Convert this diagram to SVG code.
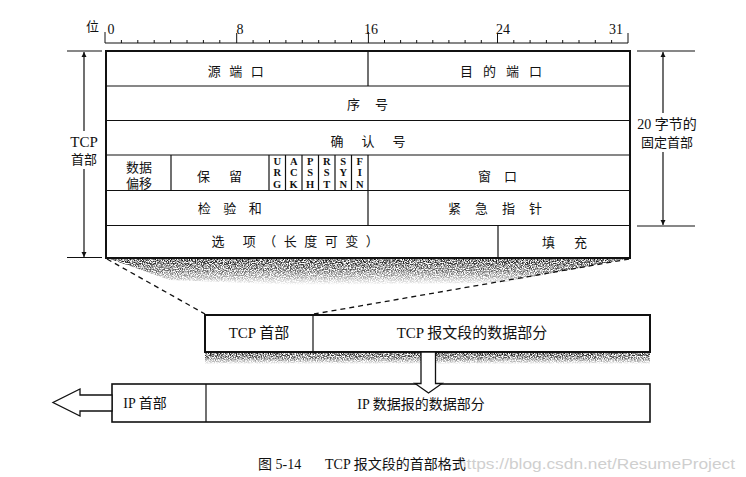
<svg xmlns="http://www.w3.org/2000/svg" width="746" height="477" viewBox="0 0 746 477">
<style>
  .cn { font-family: "Liberation Serif", "Noto Sans CJK SC", serif; font-size: 13px; fill: #111; }
  .lat { font-family: "Liberation Serif", "Noto Sans CJK SC", serif; fill: #111; }
  .flag { font-family: "Liberation Serif", serif; font-size: 10.5px; font-weight: bold; fill: #111; text-anchor: middle; }
  .box { fill: #fff; stroke: #111; }
  .ln { stroke: #111; stroke-width: 1.2; fill: none; }
  .tick { stroke: #111; stroke-width: 1; }
  .dash { stroke: #111; stroke-width: 1.3; stroke-dasharray: 5 4; fill: none; }
  .hollow { fill: #fff; stroke: #111; stroke-width: 1.3; stroke-linejoin: miter; }
</style>
<defs>
  <marker id="ah" viewBox="0 0 10 10" refX="10" refY="5" markerWidth="5" markerHeight="8" orient="auto" markerUnits="userSpaceOnUse">
    <path d="M0,0 L10,5 L0,10 Z" fill="#111"/>
  </marker>
  <linearGradient id="fadeA" x1="0" y1="0" x2="0" y2="1">
    <stop offset="0" stop-color="#000" stop-opacity="0.95"/>
    <stop offset="0.5" stop-color="#000" stop-opacity="0.6"/>
    <stop offset="1" stop-color="#000" stop-opacity="0"/>
  </linearGradient>
  <linearGradient id="fadeB" x1="0" y1="0" x2="0" y2="1">
    <stop offset="0" stop-color="#000" stop-opacity="1"/>
    <stop offset="0.6" stop-color="#000" stop-opacity="0.55"/>
    <stop offset="1" stop-color="#000" stop-opacity="0"/>
  </linearGradient>
  <filter id="grain" filterUnits="userSpaceOnUse" x="0" y="240" width="746" height="140">
    <feTurbulence type="fractalNoise" baseFrequency="0.85" numOctaves="2" seed="7" result="n"/>
    <feColorMatrix in="n" type="matrix" values="0 0 0 0 0  0 0 0 0 0  0 0 0 0 0  3.2 0 0 0 -1.1" result="a"/>
    <feComposite in="SourceGraphic" in2="a" operator="in"/>
  </filter>
</defs>

<!-- ruler -->
<g id="ruler">
  <text class="cn" x="86" y="31" font-size="13">位</text>
  <line class="ln" x1="105" y1="43" x2="628" y2="43"/>
  <g class="tick">
    <line x1="105" y1="43" x2="105" y2="32"/>
    <line x1="236.7" y1="43" x2="236.7" y2="33"/>
    <line x1="368.4" y1="43" x2="368.4" y2="32"/>
    <line x1="497.5" y1="43" x2="497.5" y2="33"/>
    <line x1="628" y1="43" x2="628" y2="33"/>
    <path d="M121.4,43v-3 M137.8,43v-3 M154.2,43v-3 M170.6,43v-3 M187,43v-3 M203.4,43v-3 M219.8,43v-3
             M253.1,43v-3 M269.5,43v-3 M285.9,43v-3 M302.3,43v-3 M318.7,43v-3 M335.1,43v-3 M351.5,43v-3
             M384.5,43v-3 M400.6,43v-3 M416.7,43v-3 M432.8,43v-3 M448.9,43v-3 M465.1,43v-3 M481.3,43v-3
             M513.8,43v-3 M530.1,43v-3 M546.4,43v-3 M562.7,43v-3 M579,43v-3 M595.3,43v-3 M611.6,43v-3"/>
  </g>
  <text class="lat" x="111" y="34" font-size="14" text-anchor="middle">0</text>
  <text class="lat" x="240" y="34" font-size="14" text-anchor="middle">8</text>
  <text class="lat" x="371" y="34" font-size="14" text-anchor="middle">16</text>
  <text class="lat" x="503" y="34" font-size="14" text-anchor="middle">24</text>
  <text class="lat" x="616" y="34" font-size="14" text-anchor="middle">31</text>
</g>

<!-- shading under table -->
<polygon points="107,258 630,258 590,266 500,283 300,285 170,280" fill="url(#fadeA)" filter="url(#grain)"/>
<!-- shading under TCP segment box -->
<rect x="205" y="352" width="445" height="12" fill="url(#fadeB)" filter="url(#grain)"/>

<!-- TCP header table -->
<g id="tcp-header">
  <rect class="box" x="106" y="51" width="524" height="207" stroke-width="2"/>
  <g class="ln">
    <line x1="106" y1="86" x2="630" y2="86"/>
    <line x1="106" y1="120.5" x2="630" y2="120.5"/>
    <line x1="106" y1="155" x2="630" y2="155"/>
    <line x1="106" y1="190.5" x2="630" y2="190.5"/>
    <line x1="106" y1="225.5" x2="630" y2="225.5"/>
    <line x1="368" y1="51" x2="368" y2="86"/>
    <line x1="171" y1="155" x2="171" y2="190.5"/>
    <line x1="269" y1="155" x2="269" y2="190.5"/>
    <line x1="285.5" y1="155" x2="285.5" y2="190.5"/>
    <line x1="302" y1="155" x2="302" y2="190.5"/>
    <line x1="318.5" y1="155" x2="318.5" y2="190.5"/>
    <line x1="335" y1="155" x2="335" y2="190.5"/>
    <line x1="351.5" y1="155" x2="351.5" y2="190.5"/>
    <line x1="368" y1="155" x2="368" y2="225.5"/>
    <line x1="498" y1="225.5" x2="498" y2="258"/>
  </g>
</g>
<g id="src-port"><text class="cn" x="240" y="76" text-anchor="middle" letter-spacing="8.5">源端口</text></g>
<g id="dst-port"><text class="cn" x="506" y="76" text-anchor="middle" letter-spacing="10">目的端口</text></g>
<g id="seq"><text class="cn" x="375" y="109" text-anchor="middle" letter-spacing="15">序号</text></g>
<g id="ack"><text class="cn" x="377" y="146" text-anchor="middle" letter-spacing="18">确认号</text></g>
<g id="offset">
  <text class="cn" x="139" y="172" text-anchor="middle">数据</text>
  <text class="cn" x="139" y="188" text-anchor="middle">偏移</text>
</g>
<g id="reserved"><text class="cn" x="229" y="181" text-anchor="middle" letter-spacing="19">保留</text></g>
<g id="flags">
  <text class="flag" x="277.2"><tspan x="277.2" y="165">U</tspan><tspan x="277.2" y="176">R</tspan><tspan x="277.2" y="188">G</tspan></text>
  <text class="flag" x="293.7"><tspan x="293.7" y="165">A</tspan><tspan x="293.7" y="176">C</tspan><tspan x="293.7" y="188">K</tspan></text>
  <text class="flag" x="310.2"><tspan x="310.2" y="165">P</tspan><tspan x="310.2" y="176">S</tspan><tspan x="310.2" y="188">H</tspan></text>
  <text class="flag" x="326.7"><tspan x="326.7" y="165">R</tspan><tspan x="326.7" y="176">S</tspan><tspan x="326.7" y="188">T</tspan></text>
  <text class="flag" x="343.2"><tspan x="343.2" y="165">S</tspan><tspan x="343.2" y="176">Y</tspan><tspan x="343.2" y="188">N</tspan></text>
  <text class="flag" x="359.7"><tspan x="359.7" y="165">F</tspan><tspan x="359.7" y="176">I</tspan><tspan x="359.7" y="188">N</tspan></text>
</g>
<g id="window"><text class="cn" x="504" y="181" text-anchor="middle" letter-spacing="13">窗口</text></g>
<g id="checksum"><text class="cn" x="236" y="213" text-anchor="middle" letter-spacing="12.5">检验和</text></g>
<g id="urgent"><text class="cn" x="502" y="213" text-anchor="middle" letter-spacing="14">紧急指针</text></g>
<g id="options"><text class="cn" x="299" y="246" text-anchor="middle" letter-spacing="7.5">选 项（长度可变）</text></g>
<g id="padding"><text class="cn" x="574" y="247" text-anchor="middle" letter-spacing="19">填充</text></g>

<!-- side labels -->
<g id="tcp-header-label">
  <text class="lat" x="84" y="147" font-size="15" text-anchor="middle">TCP</text>
  <text class="cn" x="84" y="164" font-size="14" text-anchor="middle">首部</text>
</g>
<g id="fixed-header-label">
  <text class="lat" x="667" y="129" font-size="14" text-anchor="middle">20 字节的</text>
  <text class="cn" x="667" y="147" font-size="14" text-anchor="middle">固定首部</text>
</g>

<!-- TCP segment -->
<g id="tcp-segment">
  <rect class="box" x="205" y="315" width="445" height="37" stroke-width="2"/>
  <line class="ln" x1="313" y1="315" x2="313" y2="352"/>
  <text class="lat" x="259" y="338" font-size="15" text-anchor="middle">TCP 首部</text>
  <text class="lat" x="472" y="338" font-size="15" text-anchor="middle">TCP 报文段的数据部分</text>
</g>

<!-- IP datagram -->
<g id="ip-datagram">
  <rect class="box" x="112" y="384" width="538" height="38" stroke-width="1.6"/>
  <line class="ln" x1="206" y1="384" x2="206" y2="422"/>
  <text class="lat" x="145" y="408" font-size="14" text-anchor="middle">IP 首部</text>
  <text class="lat" x="421" y="409" font-size="14" text-anchor="middle">IP 数据报的数据部分</text>
</g>

<!-- connectors -->
<g id="connectors">
  <line class="ln" x1="67" y1="51" x2="102" y2="51"/>
  <line class="ln" x1="67" y1="257.5" x2="102" y2="257.5"/>
  <line class="ln" x1="84" y1="131" x2="84" y2="52" marker-end="url(#ah)"/>
  <line class="ln" x1="84" y1="169" x2="84" y2="257" marker-end="url(#ah)"/>

  <line class="ln" x1="637" y1="51" x2="695" y2="51"/>
  <line class="ln" x1="637" y1="226" x2="695" y2="226"/>
  <line class="ln" x1="663" y1="113" x2="663" y2="52" marker-end="url(#ah)"/>
  <line class="ln" x1="663" y1="152" x2="663" y2="225" marker-end="url(#ah)"/>

  <line class="dash" x1="107" y1="259" x2="205" y2="314"/>
  <line class="dash" x1="629" y1="259" x2="314" y2="314"/>

  <polygon class="hollow" points="421,352 421,383.5 415,383.5 428.5,393 442,383.5 435.5,383.5 435.5,352"/>
  <polygon class="hollow" points="112,395 80,395 80,389 53,402.5 80,416 80,411 112,411"/>
</g>

<!-- caption -->
<g id="caption">
  <text x="457" y="469" font-family="Liberation Sans, Arial, sans-serif" font-size="14.5" fill="#cfcfcf" textLength="278" lengthAdjust="spacingAndGlyphs">https://blog.csdn.net/ResumeProject</text>
  <text class="lat" x="258" y="469" font-size="14">图 5-14</text>
  <text class="lat" x="325" y="469" font-size="14">TCP 报文段的首部格式</text>
</g>
</svg>
